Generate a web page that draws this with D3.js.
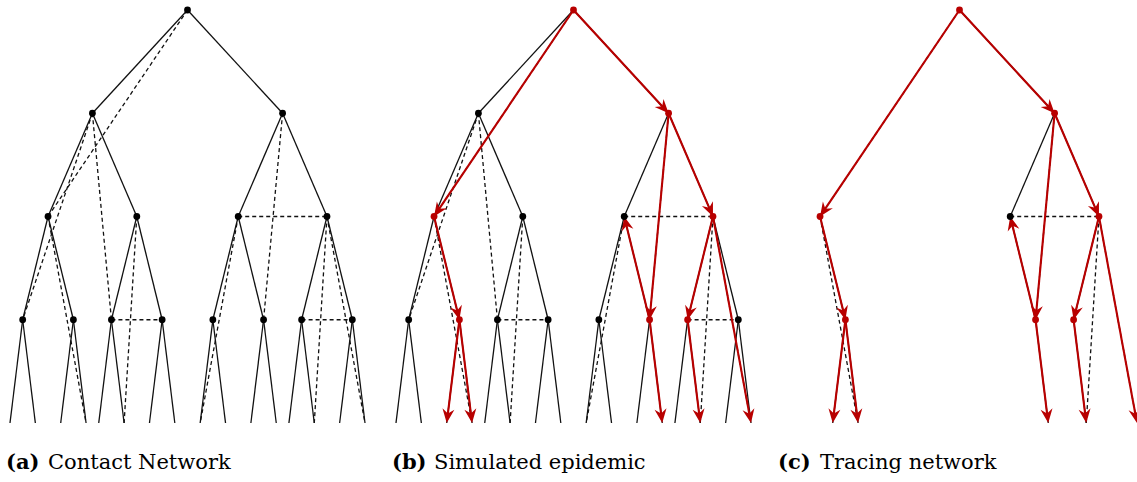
<!DOCTYPE html>
<html>
<head>
<meta charset="utf-8">
<script src="https://cdn.jsdelivr.net/npm/d3@7"></script>
<style>
  body { margin: 0; background: #fff; }
</style>
</head>
<body>
<script>
// contact network = complete binary tree (heap ids, root = 1, kids 2i / 2i+1)
// plus some extra contacts drawn dashed
var treeDepth = 4;
var extraContacts = [[1, 4], [2, 8], [2, 10], [4, 19], [5, 21], [10, 11],
                     [3, 13], [6, 7], [6, 24], [7, 29], [7, 31], [14, 15]];
// who infected whom in the simulated epidemic
var transmissions = [[1, 4], [1, 3], [3, 13], [3, 7], [13, 6], [7, 14],
                     [7, 31], [13, 27], [14, 29], [4, 9], [9, 18], [9, 19]];
var infected = [1, 3, 4, 7, 9, 13, 14];
// leaf neighbours that sit closer together than the rest
var narrowGaps = [[19, 20], [27, 28]];
var captionTags = ['(a)', '(b)', '(c)'];
var captionTexts = ['Contact Network', 'Simulated epidemic', 'Tracing network'];

var width = 1137, height = 482;
var red = '#b80000';
var panelShift = 386;
var serif = 'DejaVu Serif, Liberation Serif, serif';

function build(id, depth) {
    var n = {id: id};
    if (depth < treeDepth) n.children = [build(2 * id, depth + 1), build(2 * id + 1, depth + 1)];
    return n;
}

var root = d3.hierarchy(build(1, 0));
d3.tree()
    .nodeSize([1, 1])
    .separation(function(a, b) {
        var narrow = narrowGaps.some(function(g) {
            return (g[0] === a.data.id && g[1] === b.data.id) || (g[1] === a.data.id && g[0] === b.data.id);
        });
        return narrow ? 0.5 : 1;
    })(root);

var nodes = root.descendants();
var byId = {};
nodes.forEach(function(d) { byId[d.data.id] = d; });

var x = d3.scaleLinear()
    .domain(d3.extent(nodes, function(d) { return d.x; }))
    .range([10, 365]);
var y = d3.scaleLinear().domain([0, treeDepth]).range([10, 423]);

var treeEdges = root.links().map(function(l) { return [l.source.data.id, l.target.data.id]; });

var svg = d3.select('body').append('svg')
    .attr('width', width)
    .attr('height', height);

var defs = svg.append('defs');
defs.append('marker')
    .attr('id', 'arrow')
    .attr('viewBox', '-12 -8 18 16')
    .attr('refX', 0).attr('refY', 0)
    .attr('markerWidth', 18).attr('markerHeight', 16)
    .attr('markerUnits', 'userSpaceOnUse')
    .attr('orient', 'auto')
    .append('path')
        .attr('d', 'M4,0 L-10,-6 L-5.5,0 L-10,6 Z')
        .attr('fill', red);

function inSet(set, e) { return set.indexOf(e[0]) >= 0 && set.indexOf(e[1]) >= 0; }

function drawPanel(k) {
    var g = svg.append('g').attr('transform', 'translate(' + (k * panelShift) + ',0)');
    var solid = treeEdges, dashed = extraContacts, arrows = [];
    var dotIds = nodes.filter(function(d) { return d.children; }).map(function(d) { return d.data.id; });

    if (k >= 1) arrows = transmissions;
    if (k === 2) {
        var touched = [];
        transmissions.forEach(function(t) {
            if (touched.indexOf(t[0]) < 0) touched.push(t[0]);
            if (touched.indexOf(t[1]) < 0) touched.push(t[1]);
        });
        solid = treeEdges.filter(function(e) { return inSet(touched, e); });
        dashed = extraContacts.filter(function(e) { return inSet(touched, e); });
        dotIds = dotIds.filter(function(id) { return touched.indexOf(id) >= 0; });
    }

    function seg(sel) {
        return sel.attr('x1', function(e) { return x(byId[e[0]].x); })
            .attr('y1', function(e) { return y(byId[e[0]].depth); })
            .attr('x2', function(e) { return x(byId[e[1]].x); })
            .attr('y2', function(e) { return y(byId[e[1]].depth); });
    }

    seg(g.selectAll('.solid').data(solid).enter().append('line').attr('class', 'solid'))
        .attr('stroke', '#111').attr('stroke-width', 1.3);
    seg(g.selectAll('.dashed').data(dashed).enter().append('line').attr('class', 'dashed'))
        .attr('stroke', '#111').attr('stroke-width', 1.3).attr('stroke-dasharray', '4,3');

    // red arrows, pulled back a little so the head's tip lands on the node
    g.selectAll('.arrow').data(arrows).enter().append('line')
        .attr('class', 'arrow')
        .each(function(e) {
            var x1 = x(byId[e[0]].x), y1 = y(byId[e[0]].depth);
            var x2 = x(byId[e[1]].x), y2 = y(byId[e[1]].depth);
            var len = Math.sqrt((x2 - x1) * (x2 - x1) + (y2 - y1) * (y2 - y1));
            var f = (len - 4) / len;
            d3.select(this)
                .attr('x1', x1).attr('y1', y1)
                .attr('x2', x1 + (x2 - x1) * f).attr('y2', y1 + (y2 - y1) * f);
        })
        .attr('stroke', red).attr('stroke-width', 2.1)
        .attr('marker-end', 'url(#arrow)');

    g.selectAll('.node').data(dotIds).enter().append('circle')
        .attr('class', 'node')
        .attr('cx', function(id) { return x(byId[id].x); })
        .attr('cy', function(id) { return y(byId[id].depth); })
        .attr('r', 3.4)
        .attr('fill', function(id) { return (k >= 1 && infected.indexOf(id) >= 0) ? red : '#000'; });

    g.append('text')
        .attr('x', 6).attr('y', 469)
        .attr('font-family', serif)
        .attr('font-size', 21).attr('font-weight', 'bold')
        .text(captionTags[k]);
    g.append('text')
        .attr('x', 48).attr('y', 469)
        .attr('font-family', serif)
        .attr('font-size', 21)
        .text(captionTexts[k]);
}

[0, 1, 2].forEach(drawPanel);
</script>
</body>
</html>
